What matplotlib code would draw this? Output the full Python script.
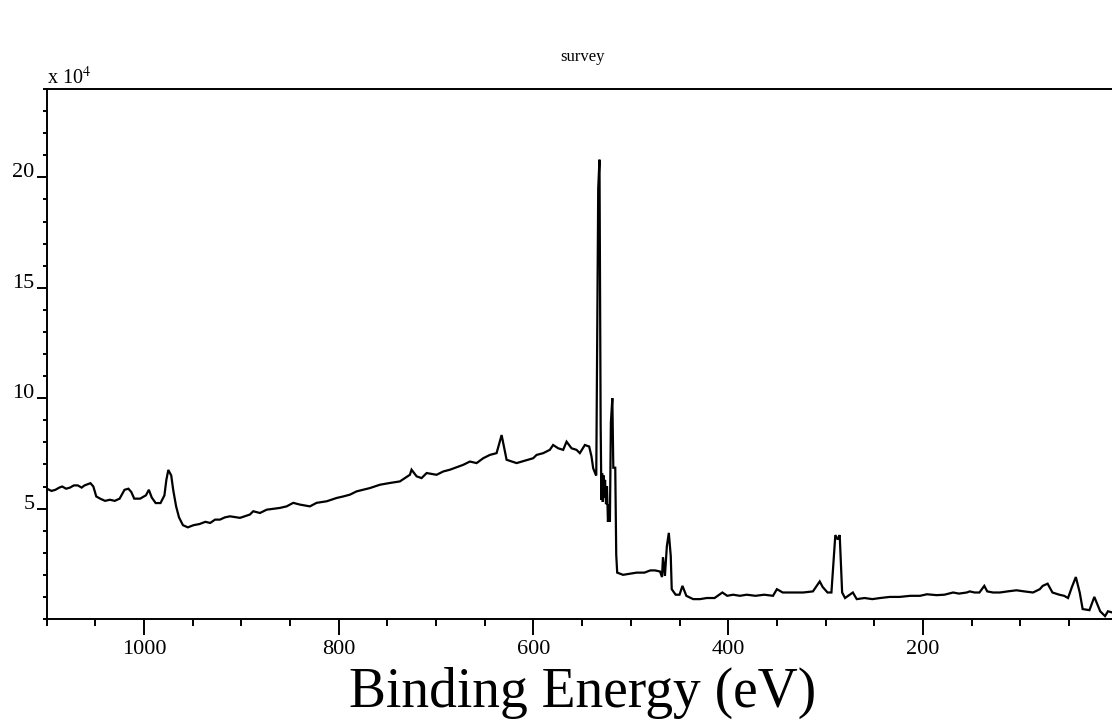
import matplotlib
matplotlib.use("Agg")
import matplotlib.pyplot as plt
from matplotlib.ticker import MultipleLocator, FixedLocator

# ---- data (binding energy in eV, intensity in units of 1e4 counts) ----
energy = [
    1099.6, 1095, 1091, 1087, 1084, 1080, 1076, 1072, 1068, 1064, 1061, 1058,
    1055, 1052, 1049, 1045, 1040, 1035, 1030, 1025,
    1020, 1016, 1013, 1010, 1004, 998, 995, 992, 988, 983, 979, 977, 975, 972,
    970, 967, 964, 960, 955, 949, 943, 937, 932, 927, 922, 917,
    911.7, 901.4, 891.2, 887.8, 880.9, 874.0, 860.4, 853.5, 846.7, 839.8, 829.6,
    822.7, 812.4, 802.2, 795.3, 788.5, 781.6, 767.9, 757.7, 747.4, 737.2, 726.9,
    725.2, 720.0, 714.9, 709.7, 699.5, 692.7, 685.8, 672.2, 665.3, 658.4, 651.6,
    644.8, 637.9, 632.7, 627.6, 617.3, 603.7,
    600.3, 596.8, 590.0, 583.2, 579.8, 574.6, 569.5, 566.0, 560.9, 555.8, 552.4,
    547.2, 542.8, 540.4, 538.7, 536.0,
    535.5, 534.8, 533.5, 532.2, 531.0, 530.2, 529.5, 528.8, 528.0, 527.2,
    526.5, 525.5, 524.5, 523.5, 522.5, 521.5, 520.5, 519.0, 518.0, 516.0,
    515.0, 514.0,
    508, 501, 494, 486, 480, 475, 470, 468, 467, 465, 463, 461, 459, 458, 454,
    450, 447, 443, 436, 429, 422, 414, 406, 401, 395, 388, 381, 372, 363, 354,
    350, 344, 335, 323, 313, 306, 303, 298, 294,
    290, 287.5, 285.5, 283, 280, 272, 268, 260, 252, 244, 234, 224, 213, 203,
    196, 186, 178, 169, 163, 155, 152, 147, 142, 137, 134, 128, 121, 113, 104,
    96, 87, 80, 77, 72, 67, 60, 55, 51, 47, 43, 39, 36, 29,
    24, 18, 13, 10, 6,
]
intensity = [
    5.9, 5.8, 5.85, 5.95, 6.0, 5.9, 5.95, 6.05, 6.05, 5.95, 6.05, 6.1,
    6.15, 6.0, 5.55, 5.45, 5.35, 5.4, 5.35, 5.45,
    5.85, 5.9, 5.75, 5.45, 5.45, 5.6, 5.85, 5.5, 5.25, 5.25, 5.6, 6.3, 6.75, 6.5,
    5.85, 5.1, 4.6, 4.25, 4.15, 4.25, 4.3, 4.4, 4.35, 4.5, 4.5, 4.6,
    4.65, 4.58, 4.73, 4.88, 4.8, 4.95, 5.03, 5.1, 5.26, 5.18, 5.1,
    5.26, 5.33, 5.48, 5.55, 5.63, 5.78, 5.93, 6.08, 6.16, 6.23, 6.53,
    6.76, 6.46, 6.38, 6.61, 6.53, 6.68, 6.76, 6.98, 7.13, 7.06, 7.28,
    7.43, 7.51, 8.33, 7.21, 7.06, 7.24,
    7.28, 7.43, 7.51, 7.66, 7.88, 7.73, 7.66, 8.03, 7.73, 7.66, 7.51,
    7.88, 7.81, 7.36, 6.83, 6.53,
    6.5, 11.0, 19.5, 20.8, 8.8, 5.4, 6.6, 5.3, 6.5, 5.5,
    6.3, 5.2, 6.0, 4.4, 5.2, 4.4, 8.9, 10.0, 6.85, 6.85,
    2.9, 2.1,
    2.0, 2.05, 2.1, 2.1, 2.2, 2.2, 2.15, 1.9, 2.8, 1.95, 3.3, 3.9, 2.85, 1.35, 1.1,
    1.1, 1.5, 1.05, 0.9, 0.9, 0.95, 0.95, 1.2, 1.05, 1.1, 1.05, 1.1, 1.05, 1.1, 1.05,
    1.35, 1.2, 1.2, 1.2, 1.25, 1.7, 1.45, 1.2, 1.2,
    3.8, 3.6, 3.8, 1.2, 0.95, 1.2, 0.9, 0.95, 0.9, 0.95, 1.0, 1.0, 1.05, 1.05,
    1.12, 1.08, 1.1, 1.2, 1.15, 1.2, 1.25, 1.2, 1.2, 1.5, 1.25, 1.2, 1.2, 1.25, 1.3,
    1.25, 1.2, 1.35, 1.5, 1.6, 1.2, 1.1, 1.05, 0.95, 1.45, 1.9, 1.2, 0.45, 0.4,
    1.0, 0.35, 0.13, 0.35, 0.3,
]

x_major = [1000, 800, 600, 400, 200]
y_major = [5, 10, 15, 20]
title_text = "survey"
xlabel_text = "Binding Energy (eV)"

plt.rcParams['font.family'] = ['Liberation Serif', 'DejaVu Serif']
plt.rcParams['ytick.alignment'] = 'baseline'

W, H = 1112, 727
fig = plt.figure(figsize=(W / 100, H / 100), dpi=100)
left_px, right_px, top_px, bottom_px = 46.6, 1117.7, 89, 619
ax = fig.add_axes([left_px / W, 1 - bottom_px / H,
                   (right_px - left_px) / W, (bottom_px - top_px) / H])

ax.plot(energy, intensity, color='black', lw=1.6, solid_joinstyle='miter')

ax.set_xlim(1100, 0)
ax.set_ylim(0, 24)

ax.xaxis.set_major_locator(FixedLocator(x_major))
ax.xaxis.set_minor_locator(MultipleLocator(50))
ax.yaxis.set_major_locator(FixedLocator(y_major))
ax.yaxis.set_minor_locator(MultipleLocator(1))
ax.set_xticklabels([str(v) for v in x_major])
ax.set_yticklabels([str(v) for v in y_major])

ax.tick_params(axis='x', which='major', direction='out', length=11.5, width=1.4,
               labelsize=16, pad=3.5, top=False)
ax.tick_params(axis='x', which='minor', direction='out', length=5, width=1.4, top=False)
ax.tick_params(axis='y', which='major', direction='out', length=7.2, width=1.4,
               labelsize=16, pad=1.5, right=False)
ax.tick_params(axis='y', which='minor', direction='out', length=3, width=1.4, right=False)

for side in ['left', 'bottom', 'top']:
    ax.spines[side].set_linewidth(1.4)
ax.spines['right'].set_visible(False)

ax.text(0.0, 1.0, r"x 10$^{4}$", transform=ax.transAxes, ha='left', va='bottom',
        fontsize=14.5, math_fontfamily='stix')

cx = (left_px + right_px) / 2 / W
fig.text(cx, 1 - 57 / H, title_text, ha='center', va='center', fontsize=12)
fig.text(cx, 1 - 693 / H, xlabel_text, ha='center', va='center', fontsize=40)

fig.savefig("out.png", dpi=100)
